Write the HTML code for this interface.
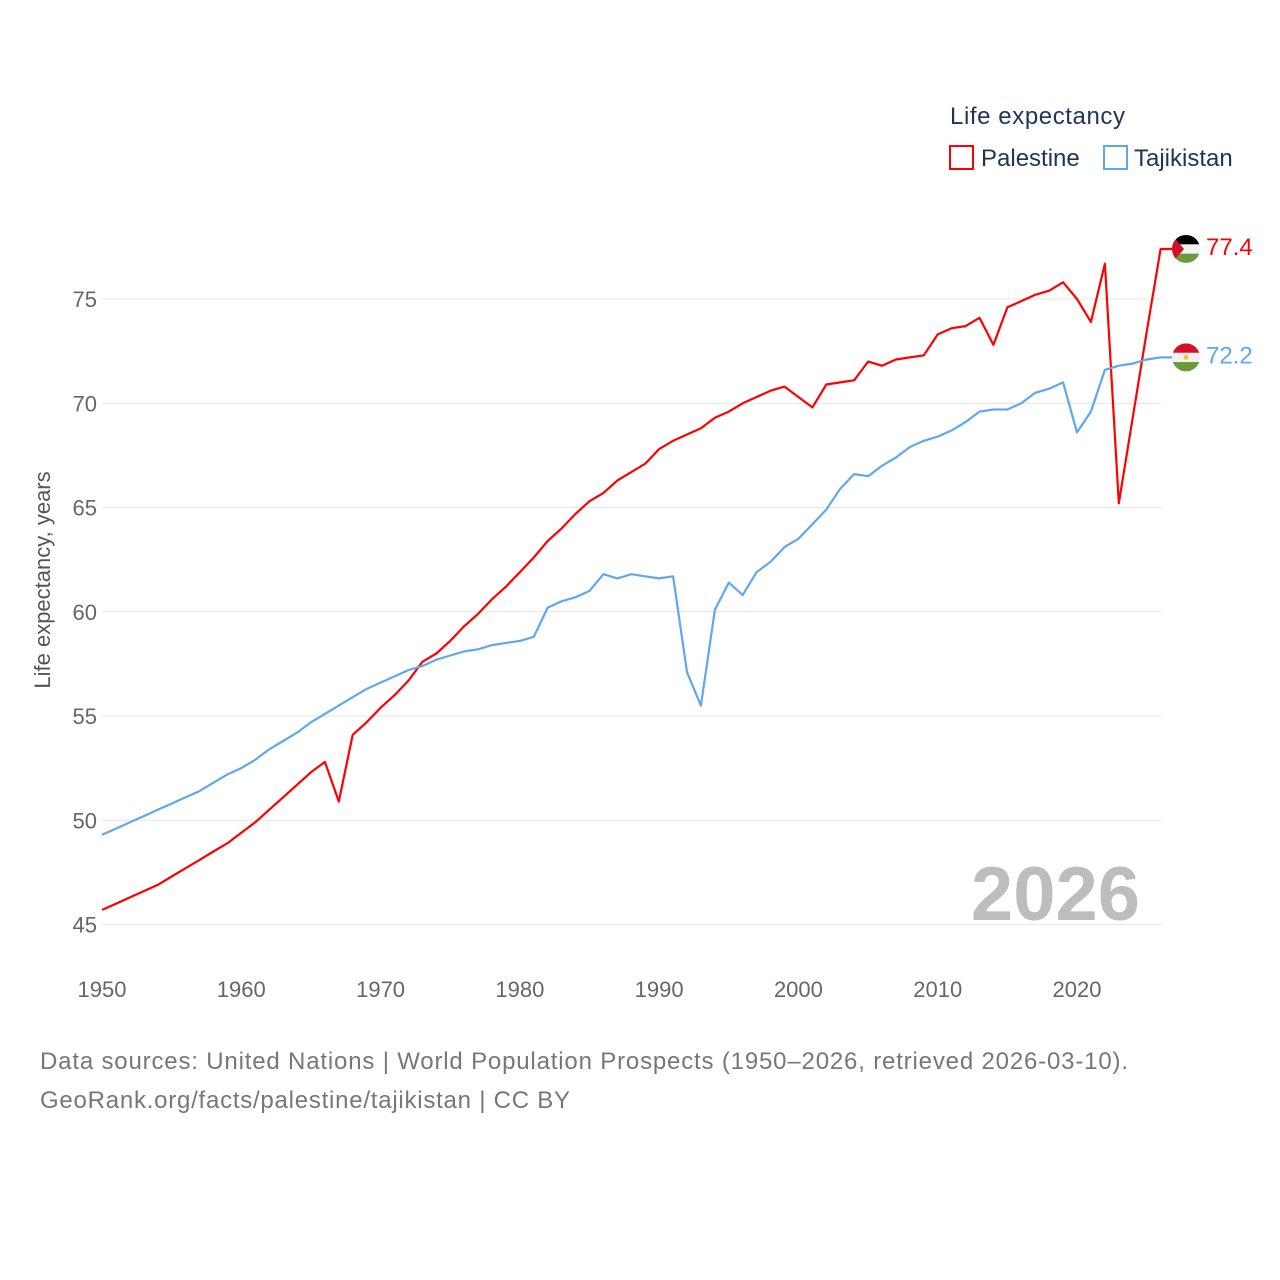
<!DOCTYPE html>
<html><head><meta charset="utf-8"><style>
body{margin:0;background:#fff;}
svg{display:block;font-family:"Liberation Sans",sans-serif;}
</style></head><body>
<svg id="chart" width="1280" height="1280" viewBox="0 0 1280 1280">
<text x="950" y="124" font-size="24" fill="#1d3557" textLength="175">Life expectancy</text>
<g>
<rect x="950" y="146" width="23" height="23" fill="none" stroke="#ff0000" stroke-width="2"/>
<text x="981" y="166" font-size="24" fill="#1d3557">Palestine</text></g>
<g>
<rect x="1104" y="146" width="23" height="23" fill="none" stroke="#5fa8ee" stroke-width="2"/>
<text x="1134" y="166" font-size="24" fill="#1d3557">Tajikistan</text></g>
<g id="grid"></g>
<g id="yticks"></g>
<g id="xticks"></g>
<text transform="translate(50,580) rotate(-90)" text-anchor="middle" font-size="22" fill="#555">Life expectancy, years</text>
<text x="1140" y="920" text-anchor="end" font-size="76" font-weight="bold" fill="#bdbdbd">2026</text>
<g id="series"></g>
<text x="40" y="1069" font-size="24" fill="#777" textLength="1088">Data sources: United Nations | World Population Prospects (1950–2026, retrieved 2026-03-10).</text>
<text x="40" y="1108" font-size="24" fill="#777" textLength="530">GeoRank.org/facts/palestine/tajikistan | CC BY</text>
</svg>
<script>
const startYear = 1950;
const yTicks = [45,50,55,60,65,70,75];
const xTicks = [1950,1960,1970,1980,1990,2000,2010,2020];
const palestine = [45.7,46.0,46.3,46.6,46.9,47.3,47.7,48.1,48.5,48.9,49.4,49.9,50.5,51.1,51.7,52.3,52.8,50.9,54.1,54.7,55.4,56.0,56.7,57.6,58.0,58.6,59.3,59.9,60.6,61.2,61.9,62.6,63.4,64.0,64.7,65.3,65.7,66.3,66.7,67.1,67.8,68.2,68.5,68.8,69.3,69.6,70.0,70.3,70.6,70.8,70.3,69.8,70.9,71.0,71.1,72.0,71.8,72.1,72.2,72.3,73.3,73.6,73.7,74.1,72.8,74.6,74.9,75.2,75.4,75.8,75.0,73.9,76.7,65.2,69.3,73.4,77.4];
const tajikistan = [49.3,49.6,49.9,50.2,50.5,50.8,51.1,51.4,51.8,52.2,52.5,52.9,53.4,53.8,54.2,54.7,55.1,55.5,55.9,56.3,56.6,56.9,57.2,57.4,57.7,57.9,58.1,58.2,58.4,58.5,58.6,58.8,60.2,60.5,60.7,61.0,61.8,61.6,61.8,61.7,61.6,61.7,57.1,55.5,60.1,61.4,60.8,61.9,62.4,63.1,63.5,64.2,64.9,65.9,66.6,66.5,67.0,67.4,67.9,68.2,68.4,68.7,69.1,69.6,69.7,69.7,70.0,70.5,70.7,71.0,68.6,69.6,71.6,71.8,71.9,72.1,72.2];
const NS="http://www.w3.org/2000/svg";
const xs = y => 102 + (y-1950)*(975/70);
const ys = v => 299 + (75-v)*20.85;
function mk(tag, attrs, parent){const e=document.createElementNS(NS,tag);for(const k in attrs)e.setAttribute(k,attrs[k]);parent.appendChild(e);return e;}
const grid=document.getElementById('grid'), yt=document.getElementById('yticks'), xt=document.getElementById('xticks'), ser=document.getElementById('series');
yTicks.forEach(v=>{
  const l=mk('line',{x1:102,x2:1161,y1:ys(v),y2:ys(v),stroke:'#e6e6e6','stroke-width':1},grid);
  
  
  const t=mk('text',{x:97,y:ys(v)+8,'text-anchor':'end','font-size':22,fill:'#666'},yt);
  t.textContent=v;
  
  
});
xTicks.forEach(y=>{
  const t=mk('text',{x:xs(y),y:997,'text-anchor':'middle','font-size':22,fill:'#666'},xt);
  t.textContent=y;
  
  
});
function drawLine(vals,color,name){
  const pts=vals.map((v,i)=>xs(startYear+i).toFixed(1)+','+ys(v).toFixed(1));
  const last=vals[vals.length-1];
  pts.push('1172,'+ys(last).toFixed(1));
  const p=mk('polyline',{points:pts.join(' '),fill:'none',stroke:color,'stroke-width':2.2,'stroke-linejoin':'round'},ser);
  
  
  const t=mk('text',{x:1206,y:ys(last)+6,'font-size':24,fill:color},ser);
  t.textContent=last.toFixed(1);
  
  
  return ys(last);
}
const yp=drawLine(palestine,'#ff0000','palestine');
const ytj=drawLine(tajikistan,'#5fa8ee','tajikistan');
function flag(cy,name,stripes,tri){
  const g=mk('g',{},ser);
  
  
  const id='clip-'+name;
  const cp=mk('clipPath',{id:id},g);mk('circle',{cx:1186,cy:cy,r:14},cp);
  const gg=mk('g',{'clip-path':'url(#'+id+')'},g);
  stripes.forEach((c,i)=>mk('rect',{x:1172,y:cy-14+i*28/3,width:28,height:28/3+0.5,fill:c},gg));
  if(tri)mk('polygon',{points:'1172,'+(cy-14)+' 1184,'+cy+' 1172,'+(cy+14),fill:'#ce1126'},gg);
}
flag(yp,'palestine',['#000','#f2f2f2','#6a9a3a'],true);
flag(ytj,'tajikistan',['#d50f25','#f2f2f2','#6a9a3a'],false);
mk('circle',{cx:1186,cy:ytj,r:2.5,fill:'#f5c542'},ser);
</script>
</body></html>
